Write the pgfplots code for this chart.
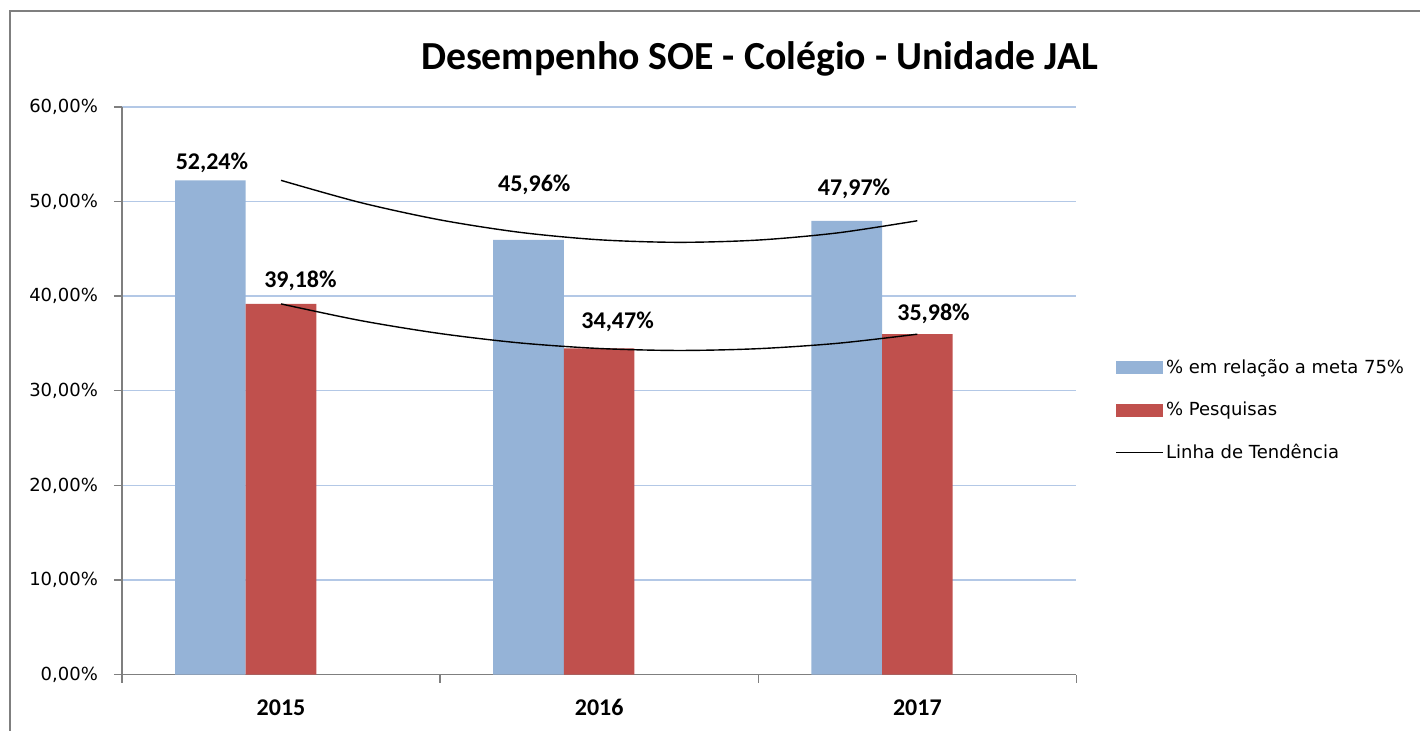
\documentclass[border=0pt]{standalone}
\usepackage{pgfplots}
\pgfplotsset{compat=1.18}
\usepackage{fontspec}
\setmainfont{Carlito}
\newfontfamily\tah{DejaVu Sans}
\definecolor{barblue}{HTML}{95B3D7}
\definecolor{barred}{HTML}{C0504D}
\definecolor{gridblue}{HTML}{B3C8E6}
\definecolor{axgray}{HTML}{7F7F7F}
\begin{document}
\begin{tikzpicture}[x=1pt,y=1pt]
\path (0,0) rectangle (710.5,365.5);
\draw[axgray, line width=0.8pt] (5,0) -- (5,360) -- (710.5,360);
\node[font=\bfseries\fontsize{19.9}{23}\selectfont] at (380,336) {Desempenho SOE - Colégio - Unidade JAL};
\begin{axis}[
  at={(61pt,28pt)}, anchor=south west,
  scale only axis, width=477.5pt, height=284pt,
  xmin=-0.5, xmax=2.5, ymin=0, ymax=60,
  axis x line*=bottom, axis y line*=left,
  axis line style={axgray, line width=0.7pt},
  xtick={0,1,2}, xticklabels={2015,2016,2017},
  major x tick style={draw=none},
  minor xtick={-0.5,0.5,1.5,2.5},
  ytick={0,10,...,60},
  tick align=outside, major tick length=4pt, minor tick length=4pt,
  tick style={axgray, line width=0.7pt},
  ymajorgrids, grid style={gridblue, line width=0.7pt},
  /pgf/number format/assume math mode=true,
  yticklabel={\pgfmathprintnumber[fixed, fixed zerofill, precision=2, use comma]{\tick}\%},
  yticklabel style={font=\tah\fontsize{9}{10}\selectfont},
  yticklabel shift=4.5pt,
  xticklabel style={font=\bfseries\fontsize{12}{14}\selectfont, text height=8pt, yshift=-5pt},
  legend style={draw=none, fill=none, at={(1.0408,0.4655)}, anchor=west,
    font=\tah\fontsize{9}{10}\selectfont, row sep=10.75pt, inner sep=0pt,
    nodes={inner sep=1pt}},
  legend cell align=left,
]
\addplot[ybar, bar width=0.222, bar shift=-0.222, fill=barblue, draw=none,
  legend image code/.code={\fill[barblue] (0pt,-3.25pt) rectangle (23.5pt,3.25pt);}]
  coordinates {(0,52.24) (1,45.96) (2,47.97)};
\addlegendentry{\% em relação a meta 75\%}
\addplot[ybar, bar width=0.222, bar shift=0, fill=barred, draw=none,
  legend image code/.code={\fill[barred] (0pt,-3.25pt) rectangle (23.5pt,3.25pt);}]
  coordinates {(0,39.18) (1,34.47) (2,35.98)};
\addlegendentry{\% Pesquisas}
\addplot[black, line width=0.7pt, smooth, no marks,
  legend image code/.code={\draw[black, line width=0.7pt] (0pt,0pt) -- (23.5pt,0pt);}]
  coordinates {(0,52.24) (0.25,49.89) (0.5,48.06) (0.75,46.75) (1,45.96) (1.25,45.69) (1.5,45.93) (1.75,46.69) (2,47.97)};
\addlegendentry{Linha de Tendência}
\addplot[black, line width=0.7pt, smooth, no marks, forget plot]
  coordinates {(0,39.18) (0.25,37.42) (0.5,36.05) (0.75,35.06) (1,34.47) (1.25,34.26) (1.5,34.45) (1.75,35.02) (2,35.98)};
\begin{scope}[font=\bfseries\fontsize{12}{14}\selectfont]
\node at (axis cs:-0.217,54.08) {52,24\%};
\node at (axis cs:0.061,41.62) {39,18\%};
\node at (axis cs:0.796,51.76) {45,96\%};
\node at (axis cs:1.058,37.29) {34,47\%};
\node at (axis cs:1.801,51.34) {47,97\%};
\node at (axis cs:2.051,38.13) {35,98\%};
\end{scope}
\end{axis}
\end{tikzpicture}
\end{document}
